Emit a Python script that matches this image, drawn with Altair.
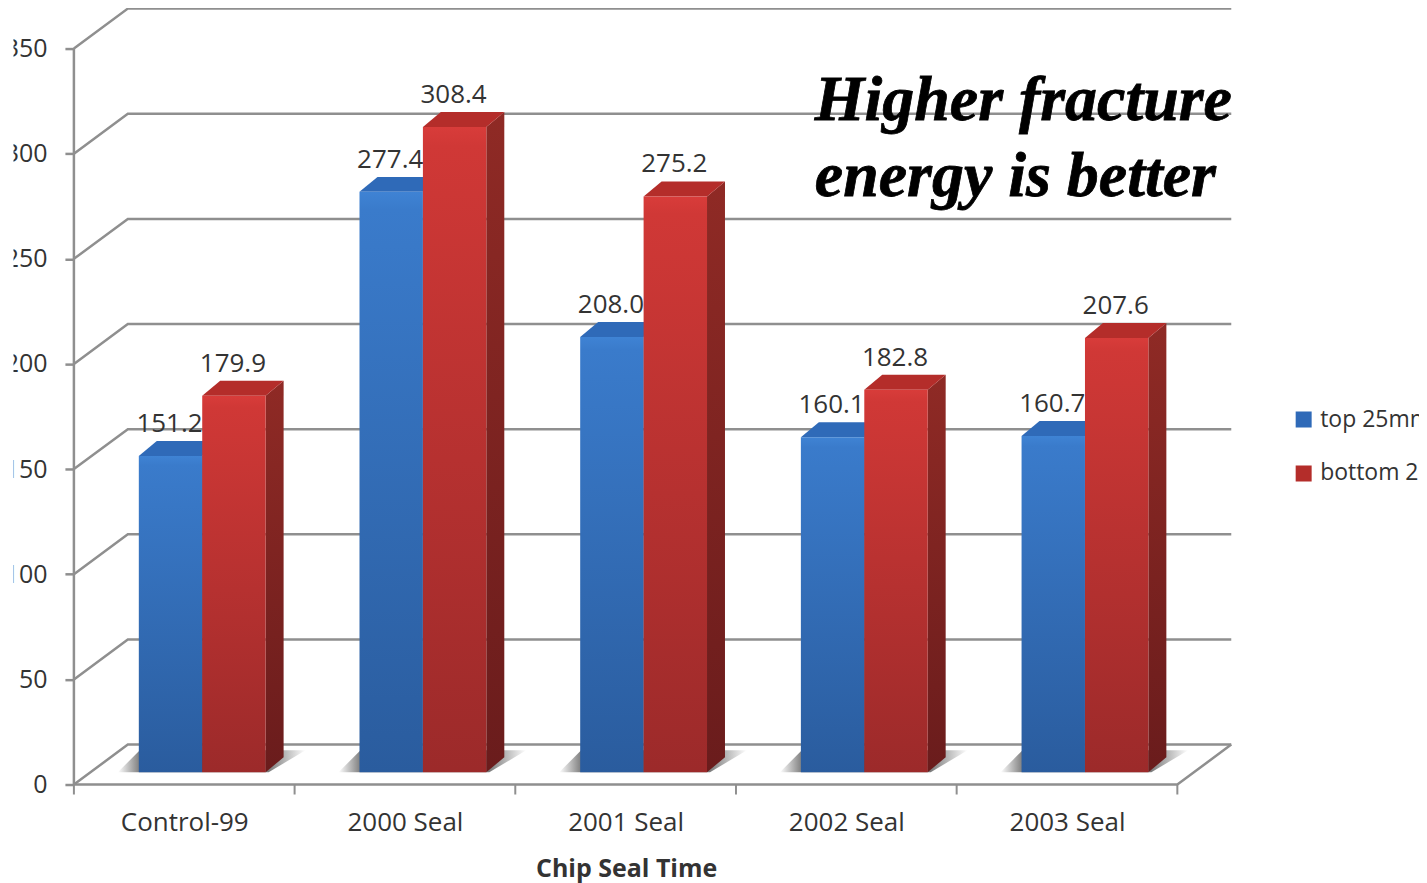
import altair as alt
import pandas as pd

categories = ["Control-99", "2000 Seal", "2001 Seal", "2002 Seal", "2003 Seal"]
top_25mm = [151.2, 277.4, 208.0, 160.1, 160.7]
bottom_25mm = [179.9, 308.4, 275.2, 182.8, 207.6]
series_names = ["top 25mm", "bottom 25mm"]
y_ticks = [0, 50, 100, 150, 200, 250, 300, 350]

W, H = 1413, 875
PX_X = 221.0            # pixels per category
PX_Y = 737 / 350        # pixels per unit of fracture energy
X0, Y0 = 66, 777        # plot position of the chart origin
X_MIN, X_MAX = -X0 / PX_X, (W - X0) / PX_X
Y_MIN, Y_MAX = -(H - Y0) / PX_Y, Y0 / PX_Y
xscale = alt.Scale(domain=[X_MIN, X_MAX], nice=False, zero=False)
yscale = alt.Scale(domain=[Y_MIN, Y_MAX], nice=False, zero=False)

# oblique projection of the walls and of the bars
WALL_DX, WALL_DY = 54 / PX_X, 40 / PX_Y
BAR_DX, BAR_DY = 18 / PX_X, 15 / PX_Y
BAR_W = 63.5 / PX_X
BASE = 12.3 / PX_Y
SHRINK = 0.995
OFFS = [65 / PX_X, 128.5 / PX_X]

front, tops, sides, labels = [], [], [], []
for s, (name, vals) in enumerate(zip(series_names, [top_25mm, bottom_25mm])):
    for i, (c, v) in enumerate(zip(categories, vals)):
        l = i + OFFS[s]
        r = l + BAR_W
        t = BASE + v * SHRINK
        key = f"{s}-{i}"
        front.append(dict(series=name, key=key, l=l, r=r, b=BASE, t=t))
        tops.append(dict(series=name, key=key, y=t, a=l, b=r))
        tops.append(dict(series=name, key=key, y=t + BAR_DY, a=l + BAR_DX, b=r + BAR_DX))
        sides.append(dict(series=name, key=key, x=r, lo=BASE, hi=t))
        sides.append(dict(series=name, key=key, x=r + BAR_DX, lo=BASE + BAR_DY, hi=t + BAR_DY))
        labels.append(dict(series=name, x=(l + r) / 2, y=t + BAR_DY, text=f"{v:.1f}"))
front = pd.DataFrame(front); tops = pd.DataFrame(tops)
sides = pd.DataFrame(sides); labels = pd.DataFrame(labels)

# walls
wall = []
n = len(categories)
for v in y_ticks:
    wall += [dict(k=v, o=0, x=0, y=v), dict(k=v, o=1, x=WALL_DX, y=v + WALL_DY),
             dict(k=v, o=2, x=n + WALL_DX, y=v + WALL_DY)]
wall += [dict(k="front", o=0, x=0, y=0), dict(k="front", o=1, x=n, y=0),
         dict(k="front", o=2, x=n + WALL_DX, y=WALL_DY),
         dict(k="axis", o=0, x=0, y=0), dict(k="axis", o=1, x=0, y=350)]
wall = pd.DataFrame(wall)
xticks = pd.DataFrame({"x": list(range(n + 1)), "y": [0] * (n + 1), "y2": [-10 / PX_Y] * (n + 1)})

# floor shadows
shadow = []
for i in range(n):
    shadow.append(dict(key=i, y=BASE, a=i + 44 / PX_X, b=i + 195 / PX_X))
    shadow.append(dict(key=i, y=BASE + 22 / PX_Y, a=i + 66 / PX_X, b=i + 232 / PX_X))
shadow = pd.DataFrame(shadow)

GREY = "#8f8f8f"
TXT = "#333333"
FONT = "Open Sans"

def grad(stops, horizontal=False):
    st = [alt.GradientStop(offset=o, color=c) for o, c in stops]
    if horizontal:
        return alt.Gradient(gradient="linear", stops=st, x1=0, x2=1, y1=0, y2=0)
    return alt.Gradient(gradient="linear", stops=st, x1=0, x2=0, y1=0, y2=1)

AX_X = alt.Axis(values=[i + 0.5 for i in range(n)],
                labelExpr="['" + "','".join(categories) + "'][round(datum.value-0.5)]",
                offset=Y0 - H, domain=False, ticks=False, grid=False,
                labelFont=FONT, labelFontSize=26, labelColor=TXT, labelPadding=25,
                labelFlush=False, labelOverlap=False, labelBound=False,
                title="Chip Seal Time",
                titleFont=FONT, titleFontSize=25, titleFontWeight="bold", titleColor=TXT,
                titleX=619, titleY=84, titleBaseline="middle", titleAnchor="middle")
AX_Y = alt.Axis(values=y_ticks, offset=-X0, domain=False, grid=False,
                tickSize=9, tickColor=GREY, tickWidth=2.5, title=None,
                labelFont=FONT, labelFontSize=25, labelColor=TXT, labelPadding=18,
                labelFlush=False, labelOverlap=False, labelBound=False, format="d")

def XF(f):
    return alt.X(f, scale=xscale, axis=AX_X)

def YF(f):
    return alt.Y(f, scale=yscale, axis=AX_Y)

X = XF("x:Q")
Y = YF("y:Q")

base_layer = alt.Chart(wall).mark_line(color=GREY, strokeWidth=2.5, strokeJoin="miter").encode(
    x=X, y=Y, detail="k:N", order="o:Q")

rule_layer = alt.Chart(xticks).mark_rule(color=GREY, strokeWidth=2).encode(x=X, y=Y, y2="y2:Q")

shadow_layer = alt.Chart(shadow).mark_area(
    orient="horizontal",
    fill=grad([(0, "#ffffff"), (0.12, "#7a7a7a"), (0.8, "#7a7a7a"), (1, "#ffffff")], True),
).encode(y=Y, x=XF("a:Q"), x2="b:Q", detail="key:N")

color = alt.Color("series:N",
                  scale=alt.Scale(domain=series_names, range=["#2f6ab8", "#b42d2a"]),
                  legend=alt.Legend(title=None, orient="none", legendX=1286, legendY=399,
                                    symbolType="square", symbolSize=256, symbolOpacity=1,
                                    symbolStrokeWidth=0, padding=0, rowPadding=29, labelOffset=5,
                                    labelFont=FONT, labelFontSize=23, labelColor=TXT,
                                    labelLimit=400, clipHeight=25))

def faces(name, front_g, side_g):
    d = alt.datum.series == name
    side = alt.Chart(sides).transform_filter(d).mark_area(fill=side_g).encode(
        x=X, y=YF("lo:Q"), y2="hi:Q", detail="key:N")
    top = alt.Chart(tops).transform_filter(d).mark_area(orient="horizontal").encode(
        y=Y, x=XF("a:Q"), x2="b:Q", detail="key:N", color=color)
    fr = alt.Chart(front).transform_filter(d).mark_rect(fill=front_g).encode(
        x=XF("l:Q"), x2="r:Q", y=YF("b:Q"), y2="t:Q")
    lab = alt.Chart(labels).transform_filter(d).mark_text(
        font=FONT, fontSize=26, color=TXT, baseline="middle", dy=-17, dx=-1).encode(x=X, y=Y, text="text:N")
    return [side, top, fr, lab]

blue = faces("top 25mm",
             grad([(0, "#3f83d4"), (0.03, "#3a7bcb"), (1, "#2a5c9e")]),
             grad([(0, "#1f4a85"), (1, "#173a68")]))
red = faces("bottom 25mm",
            grad([(0, "#d83c3a"), (0.03, "#d03836"), (1, "#9c2a2a")]),
            grad([(0, "#8f2a25"), (1, "#6a1c1c")]))

note_df = pd.DataFrame({"x": [(816 - 74) / PX_X] * 2,
                        "y": [(785 - 120) / PX_Y, (785 - 196) / PX_Y],
                        "text": ["Higher fracture", "energy is better"]})
note = alt.Chart(note_df).mark_text(font="Liberation Serif", fontSize=64, fontWeight="bold",
                                    fontStyle="italic", color="#000000", stroke="#000000", strokeWidth=0.8,
                                    align="left", baseline="alphabetic").encode(x=X, y=Y, text="text:N")

# the reference photo is cropped just inside the y-axis labels
crop_df = pd.DataFrame({"a": [X_MIN], "b": [X_MIN + 5.5 / PX_X], "lo": [Y_MIN], "hi": [Y_MAX]})
crop = alt.Chart(crop_df).mark_rect(color="white").encode(
    x=XF("a:Q"), x2="b:Q", y=YF("lo:Q"), y2="hi:Q")

chart = alt.layer(base_layer, rule_layer, shadow_layer, *blue, *red, note, crop).properties(
    width=W, height=H, padding=0, autosize=alt.AutoSizeParams(type="none"),
).configure_view(stroke=None)

chart.save("out.html", embed_options={"renderer": "svg", "actions": False})
